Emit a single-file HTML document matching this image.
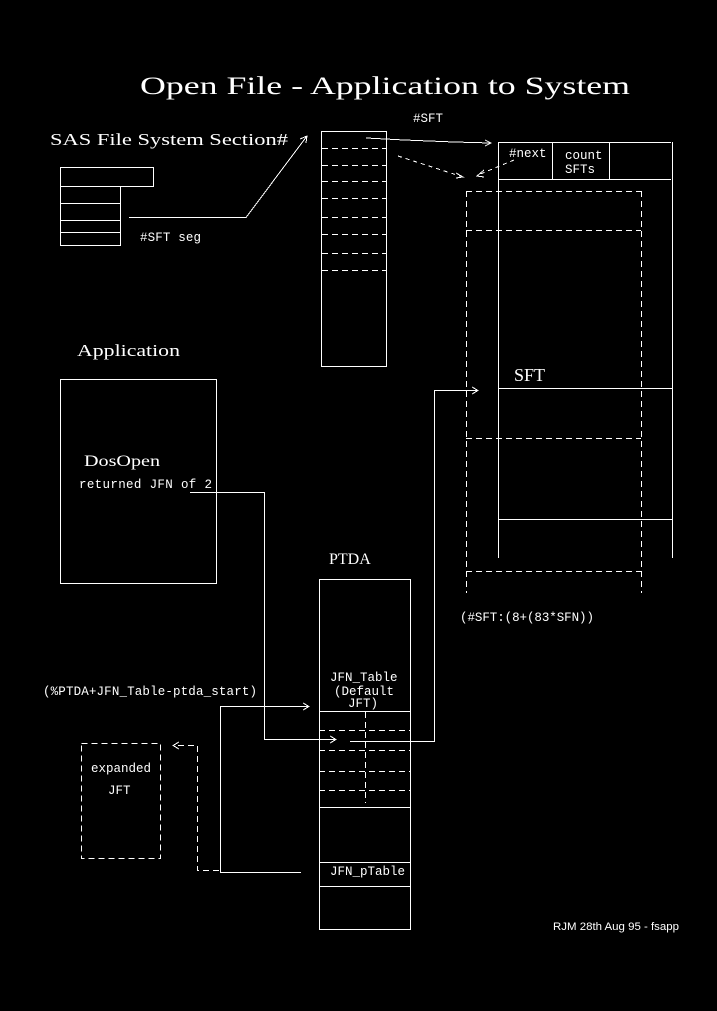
<!DOCTYPE html>
<html><head><style>
html,body{margin:0;padding:0;background:#000;}
svg{display:block}
text{fill:#fff}
.s{font-family:"Liberation Serif",serif}
.m{font-family:"Liberation Mono",monospace;font-size:12.5px}
</style></head><body>
<svg width="717" height="1011" viewBox="0 0 717 1011" xmlns="http://www.w3.org/2000/svg">
<rect width="717" height="1011" fill="#000"/>
<g stroke="#fff" stroke-width="1" fill="none" shape-rendering="crispEdges">
<rect x="60.5" y="167.5" width="93" height="19"/>
<rect x="60.5" y="186.5" width="60" height="59"/>
<line x1="60" y1="203.5" x2="120" y2="203.5"/>
<line x1="60" y1="220.5" x2="120" y2="220.5"/>
<line x1="60" y1="232.5" x2="120" y2="232.5"/>
<polyline points="129,217.5 246,217.5 307,136"/>
<polyline points="300,139 307,136 306,143"/>
<rect x="321.5" y="131.5" width="65" height="235"/>
<g stroke-dasharray="6,4">
<line x1="322" y1="148.5" x2="386" y2="148.5"/>
<line x1="322" y1="165.5" x2="386" y2="165.5"/>
<line x1="322" y1="181.5" x2="386" y2="181.5"/>
<line x1="322" y1="198.5" x2="386" y2="198.5"/>
<line x1="322" y1="217.5" x2="386" y2="217.5"/>
<line x1="322" y1="234.5" x2="386" y2="234.5"/>
<line x1="322" y1="253.5" x2="386" y2="253.5"/>
<line x1="322" y1="270.5" x2="386" y2="270.5"/>
</g>
<polyline points="366,138 404,140 454,142 491,143"/>
<polyline points="485,140 491,143 485,146"/>
<line x1="398" y1="156" x2="463" y2="177" stroke-dasharray="4,4"/>
<polyline points="456,173 463,177 456,178"/>
<line x1="514" y1="160" x2="478" y2="175" stroke-dasharray="4,4"/>
<polyline points="484,170 477,176 484,177"/>
<line x1="498.5" y1="142" x2="498.5" y2="558"/>
<line x1="672.5" y1="142" x2="672.5" y2="558"/>
<line x1="498" y1="142.5" x2="671" y2="142.5"/>
<line x1="498" y1="179.5" x2="671" y2="179.5"/>
<line x1="552.5" y1="142" x2="552.5" y2="179"/>
<line x1="609.5" y1="142" x2="609.5" y2="179"/>
<line x1="498" y1="388.5" x2="672" y2="388.5"/>
<line x1="498" y1="519.5" x2="672" y2="519.5"/>
<g stroke-dasharray="6,4">
<line x1="466.5" y1="191" x2="466.5" y2="593"/>
<line x1="641.5" y1="191" x2="641.5" y2="593"/>
<line x1="466" y1="191.5" x2="641" y2="191.5"/>
<line x1="466" y1="230.5" x2="641" y2="230.5"/>
<line x1="466" y1="438.5" x2="641" y2="438.5"/>
<line x1="466" y1="571.5" x2="641" y2="571.5"/>
</g>
<rect x="60.5" y="379.5" width="156" height="204"/>
<polyline points="190,492.5 264.5,492.5 264.5,739.5 336,739.5"/>
<polyline points="330,736 336,739.5 330,743"/>
<polyline points="350,741.5 434.5,741.5 434.5,390.5 478,390.5"/>
<polyline points="472,387 478,390.5 472,394"/>
<rect x="319.5" y="579.5" width="91" height="350"/>
<line x1="319" y1="711.5" x2="410" y2="711.5"/>
<line x1="319" y1="807.5" x2="410" y2="807.5"/>
<line x1="319" y1="862.5" x2="410" y2="862.5"/>
<line x1="319" y1="886.5" x2="410" y2="886.5"/>
<g stroke-dasharray="6,4">
<line x1="319" y1="730.5" x2="410" y2="730.5"/>
<line x1="319" y1="750.5" x2="410" y2="750.5"/>
<line x1="319" y1="771.5" x2="410" y2="771.5"/>
<line x1="319" y1="790.5" x2="410" y2="790.5"/>
<line x1="365.5" y1="712" x2="365.5" y2="803"/>
<rect x="81.5" y="743.5" width="79" height="115"/>
<polyline points="219,870.5 197.5,870.5 197.5,745.5 175,745.5"/>
</g>
<polyline points="179,742 173,745.5 179,749"/>
<polyline points="301,872.5 220.5,872.5 220.5,706.5 309,706.5"/>
<polyline points="303,703 309,706.5 303,710"/>
</g>
<text class="s" x="140" y="94" font-size="25" textLength="490" lengthAdjust="spacingAndGlyphs">Open File - Application to System</text>
<text class="s" x="50" y="145" font-size="17" textLength="238" lengthAdjust="spacingAndGlyphs">SAS File System Section#</text>
<text class="m" x="140" y="241" textLength="61">#SFT seg</text>
<text class="m" x="413" y="122">#SFT</text>
<text class="m" x="509" y="157">#next</text>
<text class="m" x="565" y="159">count</text>
<text class="m" x="565" y="173">SFTs</text>
<text class="s" x="514" y="381" font-size="18">SFT</text>
<text class="s" x="77" y="356" font-size="17" textLength="103" lengthAdjust="spacingAndGlyphs">Application</text>
<text class="s" x="84" y="466" font-size="16" textLength="76" lengthAdjust="spacingAndGlyphs">DosOpen</text>
<text class="m" x="79" y="488" textLength="133">returned JFN of 2</text>
<text class="s" x="329" y="564" font-size="16">PTDA</text>
<text class="m" x="330" y="681">JFN_Table</text>
<text class="m" x="334" y="695">(Default</text>
<text class="m" x="348" y="707">JFT)</text>
<text class="m" x="330" y="875">JFN_pTable</text>
<text class="m" x="43" y="695" textLength="214">(%PTDA+JFN_Table-ptda_start)</text>
<text class="m" x="91" y="772">expanded</text>
<text class="m" x="108" y="794">JFT</text>
<text class="m" x="460" y="621" textLength="134">(#SFT:(8+(83*SFN))</text>
<text x="553" y="930" font-family="Liberation Sans,sans-serif" font-size="11" textLength="126" lengthAdjust="spacingAndGlyphs">RJM 28th Aug 95 - fsapp</text>
</svg>
</body></html>
